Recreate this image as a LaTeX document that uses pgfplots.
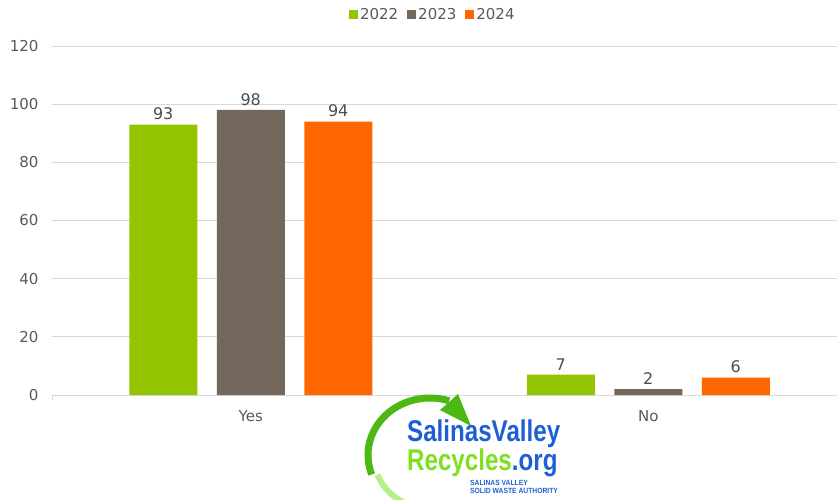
\documentclass[border=0pt]{standalone}
\usepackage{pgfplots}
\pgfplotsset{compat=1.18}
\usepackage{fontspec}
\setmainfont{DejaVu Sans}
\newfontfamily\logofont{Liberation Sans}
\definecolor{cA}{HTML}{92C400}
\definecolor{cB}{HTML}{73685B}
\definecolor{cC}{HTML}{FF6600}
\definecolor{txt}{HTML}{595959}
\definecolor{grd}{HTML}{D9D9D9}
\definecolor{logoblue}{HTML}{1F5FD6}
\definecolor{logogreen}{HTML}{7EE01E}
\definecolor{logodark}{HTML}{4CB812}
\definecolor{logolight}{HTML}{B5F08A}
\begin{document}
\begin{tikzpicture}[x=1pt,y=1pt]
\useasboundingbox (0pt,0pt) rectangle (837pt,499pt);
\begin{axis}[
  at={(52pt,104pt)}, anchor=south west,
  scale only axis, width=795pt, height=349pt,
  /pgf/number format/assume math mode=true,
  xmin=-0.5, xmax=1.5, ymin=0, ymax=120,
  ytick={0,20,...,120},
  xtick={0,1}, xticklabels={Yes,No},
  major tick length=0pt,
  extra x ticks={-0.5,0.5,1.5}, extra x tick labels={},
  extra x tick style={major tick length=5pt, tick align=outside, tick style={grd, line width=0.8pt}, grid=none},
  axis x line*=bottom, axis y line*=left,
  x axis line style={grd, line width=0.8pt, -},
  y axis line style={draw=none},
  ymajorgrids, grid style={grd, line width=0.8pt},
  every tick label/.style={font=\fontsize{15}{17}\selectfont, text=txt},
  yticklabel style={anchor=east, xshift=-10pt},
  xticklabel style={yshift=-12pt},
  ybar=19.5pt, bar width=68pt,
  nodes near coords,
  every node near coord/.append style={font=\fontsize{16}{18}\selectfont, text=txt!85!black, yshift=1pt},
  legend columns=3,
  legend style={at={(0.479,1.089)}, anchor=center, draw=none, fill=none,
    font=\fontsize{15}{17}\selectfont, text=txt,
    /tikz/every even column/.append style={column sep=7pt}},
  legend image code/.code={\fill[#1] (0pt,-4.5pt) rectangle (9pt,4.5pt);},
]
\addplot[fill=cA, draw=none] coordinates {(0,93) (1,7)};
\addplot[fill=cB, draw=none] coordinates {(0,98) (1,2)};
\addplot[fill=cC, draw=none] coordinates {(0,94) (1,6)};
\legend{2022,2023,2024}
\end{axis}
% logo
\draw[logolight, line width=6pt] ([shift={(200:58pt and 52pt)}]432pt,42pt) arc[start angle=200, end angle=265, x radius=58pt, y radius=52pt];
\draw[logodark, line width=7pt] ([shift={(200:62pt and 57pt)}]430pt,44pt) arc[start angle=200, end angle=72, x radius=62pt, y radius=57pt];
\fill[logodark] (458pt,105pt) -- (471pt,73pt) -- (440pt,89pt) -- cycle;
\node[anchor=north west, inner sep=0pt, xscale=0.805, transform shape, align=left, font=\logofont\bfseries\fontsize{30}{25}\selectfont] at (407pt,79pt) {\textcolor{logoblue}{SalinasValley}\\\textcolor{logogreen}{Recycles}\textcolor{logoblue}{.org}};
\node[anchor=west, inner sep=0pt, xscale=0.9, transform shape, text=logoblue, font=\logofont\bfseries\fontsize{7.5}{8.5}\selectfont, align=left] at (470pt,12pt) {SALINAS VALLEY\\SOLID WASTE AUTHORITY};
\end{tikzpicture}
\end{document}
